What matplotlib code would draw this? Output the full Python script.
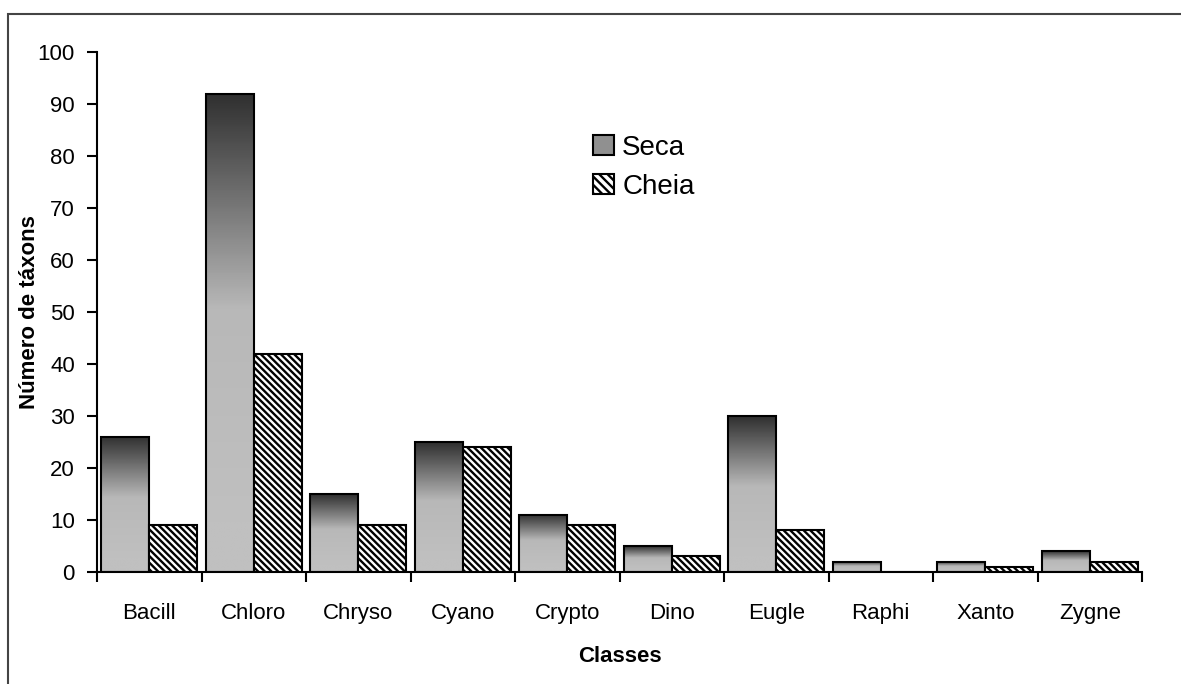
import matplotlib
matplotlib.use("Agg")
import matplotlib.pyplot as plt
from matplotlib.colors import LinearSegmentedColormap
from matplotlib.patches import Rectangle, Patch
import numpy as np

classes = ["Bacill", "Chloro", "Chryso", "Cyano", "Crypto", "Dino", "Eugle", "Raphi", "Xanto", "Zygne"]
seca = [26, 92, 15, 25, 11, 5, 30, 2, 2, 4]
cheia = [9, 42, 9, 24, 9, 3, 8, 0, 1, 2]

plt.rcParams['font.family'] = ['Liberation Sans', 'DejaVu Sans']
plt.rcParams['hatch.linewidth'] = 1.7

W, H = 1181, 684
fig = plt.figure(figsize=(W / 100, H / 100), dpi=100)
ax = fig.add_axes([97 / W, 1 - 572 / H, (1142 - 97) / W, (572 - 52) / H])

# outer frame of the chart area
fig.patches.append(Rectangle((8 / W, -0.1), 1.2, (684 - 14) / H + 0.1, transform=fig.transFigure,
                             fill=False, edgecolor='#444444', linewidth=1.5))

x = np.arange(len(classes))
bw = 0.46
gap = 0.04
hatch = '\\' * 5

cmap = LinearSegmentedColormap.from_list('grad', ['#c0c0c0', '#b8b8b8', '#303030'])
grad = np.linspace(0, 1, 256).reshape(-1, 1)
grad = np.clip((grad - 0.1) / 0.9, 0, 1)

bars_s = ax.bar(x + gap, seca, bw, align='edge', facecolor='none', edgecolor='black', linewidth=1.5, zorder=3)
for b in bars_s:
    x0, h = b.get_x(), b.get_height()
    im = ax.imshow(grad, cmap=cmap, vmin=0, vmax=1, origin='lower', aspect='auto',
                   extent=[x0, x0 + bw, 0, h], zorder=2, interpolation='bilinear')
    im.set_clip_path(b)

ax.bar(x + gap + bw, cheia, bw, align='edge', facecolor='white', edgecolor='black',
       hatch=hatch, linewidth=1.5, zorder=3)

ax.set_xlim(0, len(classes))
ax.set_ylim(0, 100)
ax.set_yticks(range(0, 101, 10))
ax.set_xticks(range(0, len(classes) + 1))
ax.set_xticklabels([])
ax.set_xticks(x + 0.5, minor=True)
ax.set_xticklabels(classes, minor=True)
ax.tick_params(axis='x', which='minor', length=0, pad=22, labelsize=16)
ax.tick_params(axis='x', which='major', length=7, width=1.5, direction='out')
ax.tick_params(axis='y', length=7, width=1.5, direction='out', labelsize=16, pad=9)
for s in ['top', 'right']:
    ax.spines[s].set_visible(False)
for s in ['left', 'bottom']:
    ax.spines[s].set_linewidth(1.5)

ax.set_ylabel('Número de táxons', fontsize=16, fontweight='bold')
ax.yaxis.set_label_coords(-0.0545, 0.5)
ax.set_xlabel('Classes', fontsize=16, fontweight='bold', labelpad=16)

handles = [Patch(facecolor='#909090', edgecolor='black', linewidth=1.5),
           Patch(facecolor='white', edgecolor='black', hatch='\\' * 4, linewidth=1.5)]
fig.legend(handles, ['Seca', 'Cheia'], loc='upper left', bbox_to_anchor=(568 / W, 1 - 110 / H),
           frameon=False, fontsize=20, handlelength=0.75, handleheight=0.75, handletextpad=0.3,
           labelspacing=0.45)

fig.savefig('out.png', dpi=100)
